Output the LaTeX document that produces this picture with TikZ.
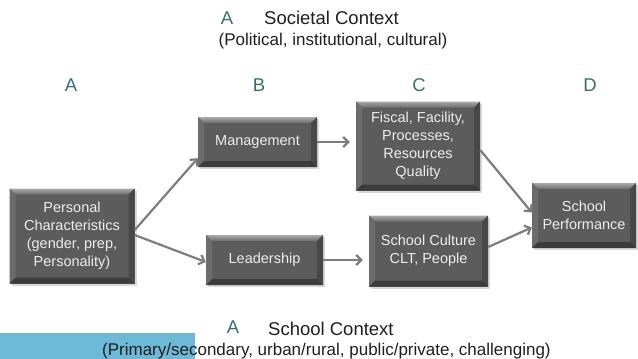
\documentclass[tikz,border=0pt]{standalone}
\usepackage{fontspec}
\setmainfont{Liberation Sans}
\usetikzlibrary{arrows.meta,shadows}

\definecolor{boxface}{RGB}{92,92,92}
\definecolor{boxtop}{RGB}{170,170,170}
\definecolor{boxleft}{RGB}{108,108,108}
\definecolor{boxright}{RGB}{72,72,72}
\definecolor{boxbottom}{RGB}{60,60,60}
\definecolor{arrowgray}{RGB}{125,125,125}
\definecolor{tealtag}{RGB}{52,112,112}
\definecolor{skyband}{RGB}{108,185,216}

% bevelled edges of a stage box
\newcommand{\stagebevel}{%
  \path (path picture bounding box.north west) coordinate (bnw)
        (path picture bounding box.north east) coordinate (bne)
        (path picture bounding box.south west) coordinate (bsw)
        (path picture bounding box.south east) coordinate (bse);
  \shade[top color=boxtop, bottom color=boxface!80!boxtop] (bnw) -- (bne) -- ([shift={(-6pt,-6pt)}]bne) -- ([shift={(6pt,-6pt)}]bnw) -- cycle;
  \fill[boxleft] (bnw) -- ([shift={(6pt,-6pt)}]bnw) -- ([shift={(6pt,6pt)}]bsw) -- (bsw) -- cycle;
  \fill[boxright] (bne) -- ([shift={(-6pt,-6pt)}]bne) -- ([shift={(-6pt,6pt)}]bse) -- (bse) -- cycle;
  \fill[boxbottom] (bsw) -- ([shift={(6pt,6pt)}]bsw) -- ([shift={(-6pt,6pt)}]bse) -- (bse) -- cycle;
}

\tikzset{
  stage/.style={fill=boxface, text=white!93!black, align=center, inner sep=0pt,
    font=\fontsize{14.5}{18}\selectfont,
    drop shadow={shadow xshift=2pt, shadow yshift=-2pt, opacity=0.3},
    path picture={\stagebevel}},
  flow/.style={draw=arrowgray, line width=2.2pt, -{Straight Barb[length=5pt,width=10pt]}},
  tag/.style={text=tealtag, inner sep=0pt, font=\fontsize{18.5}{20}\selectfont},
  context/.style={text=black!88, inner sep=0pt, font=\fontsize{18.5}{20}\selectfont},
  note/.style={text=black!88, inner sep=0pt, font=\fontsize{17}{19}\selectfont}
}

\begin{document}
\begin{tikzpicture}[x=1pt, y=-1pt]
    \useasboundingbox (0,0) rectangle (638,359);

    % band behind the school context line
    \fill[skyband] (0,333) rectangle (195,359);

    % societal context on top
    \node[tag, anchor=base] (topA) at (227,24) {A};
    \node[context, anchor=base west] (society) at (264,24) {Societal Context};
    \node[note, anchor=base] (societyNote) at (333,45) {(Political, institutional, cultural)};

    % column letters
    \node[tag] (colA) at (71,85) {A};
    \node[tag] (colB) at (259,85) {B};
    \node[tag] (colC) at (419,85) {C};
    \node[tag] (colD) at (590,85) {D};

    % stages
    \node[stage, minimum width=125pt, minimum height=95pt] (personal) at (72,236)
        {Personal\\Characteristics\\(gender, prep,\\Personality)};
    \node[stage, minimum width=119pt, minimum height=50pt] (management) at (257.5,142) {Management};
    \node[stage, minimum width=117pt, minimum height=50pt] (leadership) at (264.5,260) {Leadership};
    \node[stage, minimum width=124pt, minimum height=89pt] (fiscal) at (418,146)
        {Fiscal, Facility,\\Processes,\\Resources\\Quality};
    \node[stage, minimum width=119pt, minimum height=71pt] (culture) at (428.5,251)
        {School Culture\\CLT, People};
    \node[stage, minimum width=104pt, minimum height=65pt] (perf) at (584,215.5)
        {School\\Performance};

    % arrows between stages
    \draw[flow] ([yshift=6pt]personal.east) -- ([yshift=9pt]management.south west);
    \draw[flow] ([yshift=1pt]personal.east) -- ([yshift=-2pt]leadership.west);
    \draw[flow, shorten >=6pt] (management.east) -- (management.east -| fiscal.west);
    \draw[flow, shorten >=6pt] (leadership.east) -- (leadership.east -| culture.west);
    \draw[flow] ([yshift=-4pt]fiscal.east) -- ([yshift=3pt]perf.west);
    \draw[flow] ([yshift=4pt]culture.east) -- ([yshift=-12pt]perf.west);

    % school context at the bottom
    \node[tag, anchor=base] (botA) at (233,333) {A};
    \node[context, anchor=base west] (school) at (268,335) {School Context};
    \node[note, anchor=base west] (schoolNote) at (102,355)
        {(Primary/secondary, urban/rural, public/private, challenging)};
\end{tikzpicture}
\end{document}
